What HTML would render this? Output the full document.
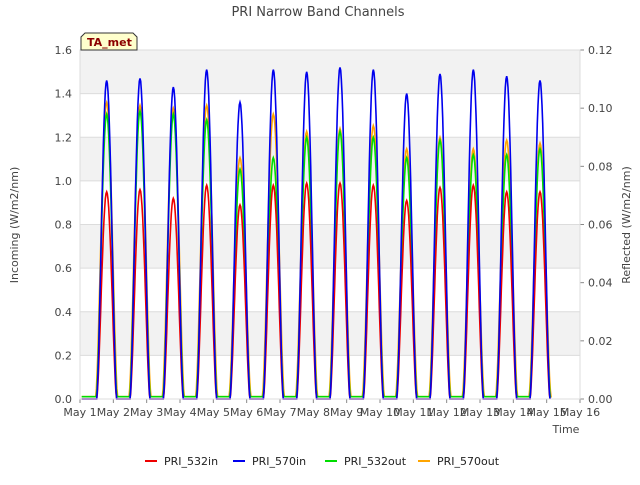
<!DOCTYPE html>
<html><head><meta charset="utf-8"><style>
body{margin:0;background:#fff;font-family:"Liberation Sans","DejaVu Sans",sans-serif;}
svg text{font-family:"DejaVu Sans","Liberation Sans",sans-serif;}
</style></head><body>
<svg id="chart" width="640" height="480" viewBox="0 0 640 480" xmlns="http://www.w3.org/2000/svg">
<text x="318" y="16" text-anchor="middle" font-size="13" fill="#444">PRI Narrow Band Channels</text>
<g id="bands"></g>
<g id="grid"></g>
<g id="series"></g>
<g id="axes"></g>
<text x="18" y="225" transform="rotate(-90 18 225)" text-anchor="middle" font-size="11" fill="#444">Incoming (W/m2/nm)</text>
<text x="630" y="225" transform="rotate(-90 630 225)" text-anchor="middle" font-size="11" fill="#444">Reflected (W/m2/nm)</text>
<text x="566" y="433" text-anchor="middle" font-size="11" fill="#444">Time</text>
<g>
<path d="M81,50 L81,37 L85,33 L133,33 L137,37 L137,50 Z" fill="#ffffcc" stroke="#333" stroke-width="1"/>
<text x="87" y="46" font-size="11" font-weight="bold" fill="#8b0000">TA_met</text>
</g>
<g id="legend"></g>
</svg>
<script>
const days=["May 1","May 2","May 3","May 4","May 5","May 6","May 7","May 8","May 9","May 10","May 11","May 12","May 13","May 14","May 15","May 16"];
const leftTicks=[0.0,0.2,0.4,0.6,0.8,1.0,1.2,1.4,1.6];
const rightTicks=[0.00,0.02,0.04,0.06,0.08,0.10,0.12];
const in570=[1.46,1.47,1.43,1.51,1.36,1.51,1.50,1.52,1.51,1.40,1.49,1.51,1.48,1.46];
const in532=[0.95,0.96,0.92,0.98,0.89,0.98,0.99,0.99,0.98,0.91,0.97,0.98,0.95,0.95];
const out532=[0.098,0.099,0.098,0.096,0.079,0.083,0.090,0.092,0.090,0.083,0.089,0.084,0.084,0.086];
const out570=[0.102,0.101,0.100,0.101,0.083,0.098,0.092,0.093,0.094,0.086,0.090,0.086,0.089,0.088];
const outNight=0.0008;

const X0=80,X1=580,Y0=399,Y1=50;
const xs=d=>X0+(X1-X0)*d/15;
const yl=v=>Y0-(Y0-Y1)*v/1.6;
const yr=v=>Y0-(Y0-Y1)*v/0.12;
const NS="http://www.w3.org/2000/svg";
function mk(tag,attrs,parent){const e=document.createElementNS(NS,tag);for(const k in attrs)e.setAttribute(k,attrs[k]);parent.appendChild(e);return e;}
const bands=document.getElementById('bands'),grid=document.getElementById('grid'),axes=document.getElementById('axes'),series=document.getElementById('series'),legend=document.getElementById('legend');
for(let i=0;i<leftTicks.length-1;i++){
 if(i%2===1){const r=mk('rect',{x:X0,y:yl(leftTicks[i+1]),width:X1-X0,height:yl(leftTicks[i])-yl(leftTicks[i+1]),fill:'#f2f2f2'},bands);
 
 }
}
leftTicks.forEach(t=>{
 const g=mk('line',{x1:X0,x2:X1,y1:yl(t),y2:yl(t),stroke:'#dcdcdc','stroke-width':1},grid);
 
 
 const tx=mk('text',{x:X0-8,y:yl(t)+4,'text-anchor':'end','font-size':11,fill:'#444'},axes);
 tx.textContent=t.toFixed(1);
 
 
});
rightTicks.forEach(t=>{
 mk('line',{x1:X1,x2:X1+4,y1:yr(t),y2:yr(t),stroke:'#888'},axes);
 const tx=mk('text',{x:X1+8,y:yr(t)+4,'text-anchor':'start','font-size':11,fill:'#444'},axes);
 tx.textContent=t.toFixed(2);
 
 
});
days.forEach((d,i)=>{
 mk('line',{x1:xs(i),x2:xs(i),y1:Y0,y2:Y0+4,stroke:'#888'},axes);
 const tx=mk('text',{x:xs(i),y:Y0+17,'text-anchor':'middle','font-size':11,fill:'#444'},axes);
 tx.textContent=d;
 
 
});
mk('rect',{x:X0,y:Y1,width:X1-X0,height:Y0-Y1,fill:'none',stroke:'#dcdcdc'},axes);

function path(peaks,ymap,base,w){
 let d='';
 const c0=0.8,half=w;
 d+='M'+xs(0.05).toFixed(1)+','+ymap(base).toFixed(1);
 peaks.forEach((p,i)=>{
  const c=i+c0;
  for(let k=0;k<=30;k++){
   const t=c-half+2*half*k/30;
   const s=Math.sin(Math.PI*k/30);
   const v=base+(p-base)*Math.pow(s,1.6);
   d+=' L'+xs(t).toFixed(1)+','+ymap(v).toFixed(1);
  }
  if(i<peaks.length-1) d+=' L'+xs(i+1+c0-half).toFixed(1)+','+ymap(base).toFixed(1);
 });
 d+=' L'+xs(14.1).toFixed(1)+','+ymap(base).toFixed(1);
 return d;
}
const specs=[
 {name:'PRI_570out',data:out570,map:yr,base:outNight,color:'#ffa500',w:0.33,label:'series-570out'},
 {name:'PRI_532out',data:out532,map:yr,base:outNight,color:'#00dd00',w:0.31,label:'series-532out'},
 {name:'PRI_532in',data:in532,map:yl,base:0,color:'#ee0000',w:0.3,label:'series-532in'},
 {name:'PRI_570in',data:in570,map:yl,base:0,color:'#0000ee',w:0.3,label:'series-570in'}
];
specs.forEach(s=>{
 const p=mk('path',{d:path(s.data,s.map,s.base,s.w),fill:'none',stroke:s.color,'stroke-width':1.6},series);
 
 
});
const leg=[['PRI_532in','#ee0000',145],['PRI_570in','#0000ee',233],['PRI_532out','#00dd00',325],['PRI_570out','#ffa500',418]];
leg.forEach(l=>{
 const g=mk('g',{},legend);
 
 
 mk('line',{x1:l[2],x2:l[2]+12,y1:461,y2:461,stroke:l[1],'stroke-width':2},g);
 const t=mk('text',{x:l[2]+19,y:465,'font-size':11,fill:'#222'},g);
 t.textContent=l[0];
});
</script>
</body></html>
